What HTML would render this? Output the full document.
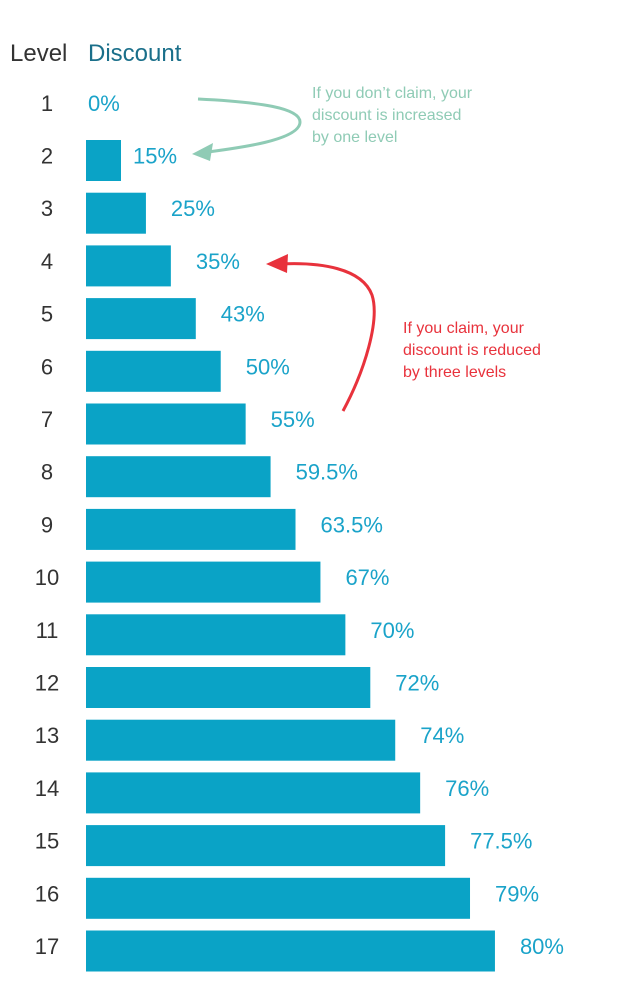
<!DOCTYPE html>
<html><head><meta charset="utf-8"><style>
body{margin:0;background:#fff;width:638px;height:1004px;overflow:hidden}
svg{display:block;font-family:"Liberation Sans",sans-serif}
</style></head><body>
<svg id="chart" width="638" height="1004">
<text x="10" y="61" font-size="24" fill="#333">Level</text>
<text x="88" y="61" font-size="24" fill="#1a6f8a">Discount</text>
<g id="rows"></g>
<g>
<path d="M198,99 C260,102 300,108 300,122 C300,140 240,148 200,153" fill="none" stroke="#8fcbb5" stroke-width="3"/>
<polygon points="192,154 213,143 210,161" fill="#8fcbb5"/>
<text font-size="16" fill="#8fcbb5"><tspan x="312" y="98">If you don’t claim, your</tspan><tspan x="312" y="120">discount is increased</tspan><tspan x="312" y="142">by one level</tspan></text>
</g>
<g>
<path d="M343,411 C365,370 380,320 372,295 C362,268 320,262 280,264" fill="none" stroke="#e8323c" stroke-width="3"/>
<polygon points="266,264 288,254 287,273" fill="#e8323c"/>
<text font-size="16" fill="#e8323c"><tspan x="403" y="333">If you claim, your</tspan><tspan x="403" y="355">discount is reduced</tspan><tspan x="403" y="377">by three levels</tspan></text>
</g>
</svg>
<script>
const levels=[1,2,3,4,5,6,7,8,9,10,11,12,13,14,15,16,17];
const discounts=[0,15,25,35,43,50,55,59.5,63.5,67,70,72,74,76,77.5,79,80];
const labels=["0%","15%","25%","35%","43%","50%","55%","59.5%","63.5%","67%","70%","72%","74%","76%","77.5%","79%","80%"];
const NS="http://www.w3.org/2000/svg";
const g=document.getElementById('rows');
function yCenter(i){return 107.8+i*52.7;}
function barW(level){return level<2?0:35+(level-2)*24.93;}
levels.forEach((lv,i)=>{
  const cy=yCenter(i);
  const t=document.createElementNS(NS,'text');
  t.setAttribute('x',47);t.setAttribute('y',cy+3);t.setAttribute('text-anchor','middle');
  t.setAttribute('font-size',22);t.setAttribute('fill','#333');t.textContent=lv;
  
  
  g.appendChild(t);
  const w=barW(lv);
  if(w>0){
    const r=document.createElementNS(NS,'rect');
    r.setAttribute('x',86);r.setAttribute('y',cy-20.5);r.setAttribute('width',w);r.setAttribute('height',41);
    r.setAttribute('fill','#0aa3c6');
    
    
    g.appendChild(r);
  }
  const v=document.createElementNS(NS,'text');
  const lx= lv===1?88:(lv===2?133:86+w+25);
  v.setAttribute('x',lx);v.setAttribute('y',cy+3);v.setAttribute('font-size',22);v.setAttribute('fill','#1aa3c9');
  v.textContent=labels[i];
  
  
  g.appendChild(v);
});
</script>
</body></html>
